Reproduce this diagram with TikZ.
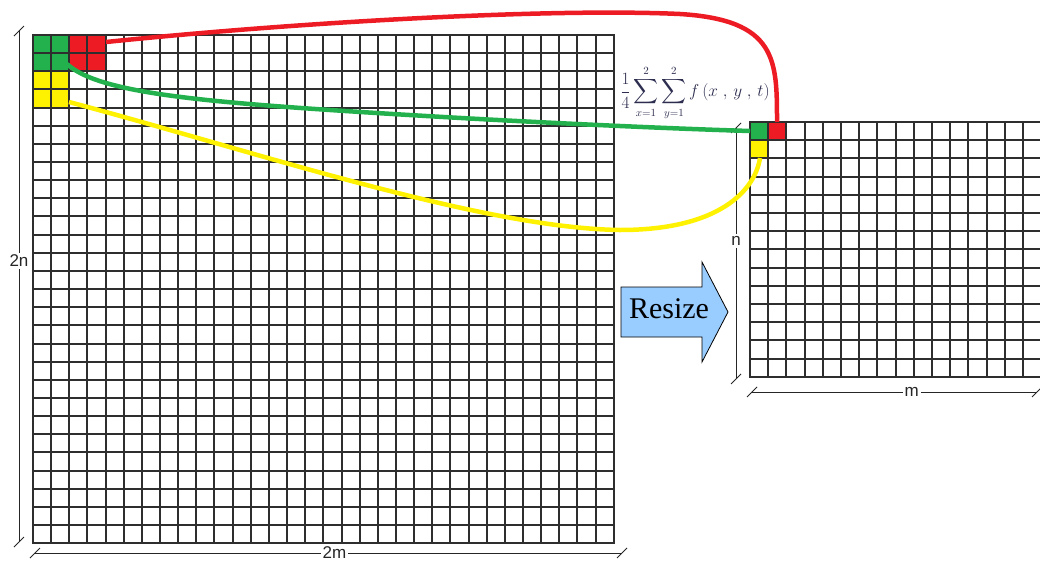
\documentclass[tikz,border=0pt]{standalone}
\usepackage{amsmath}
\usepackage{fontspec}
\setmainfont{Liberation Serif}
\setsansfont{Liberation Sans}
\usetikzlibrary{calc}

\definecolor{pgreen}{RGB}{34,177,76}
\definecolor{pred}{RGB}{237,28,36}
\definecolor{pyellow}{RGB}{255,242,0}
\definecolor{arrowblue}{RGB}{153,204,255}
\definecolor{formulaink}{RGB}{45,45,80}

\begin{document}
\begin{tikzpicture}[x=1pt, y=-1pt,
    gridline/.style={line width=2pt, black!82, line cap=rect},
    link/.style={line width=4.5pt},
    dimline/.style={line width=0.9pt, black!85},
    dimlabel/.style={fill=white, text=black!85, inner sep=2pt,
        font=\sffamily\fontsize{17}{17}\selectfont}]
    \useasboundingbox (0,0) rectangle (1040,565);

    % Large image: 2m x 2n cells
    \fill[pgreen] (33,35) rectangle (69,71);
    \fill[pred] (69,35) rectangle (106,71);
    \fill[pyellow] (33,71) rectangle (69,108);
    \foreach \i in {0,...,32} {
        \pgfmathsetmacro{\gx}{round(33+\i*18.15)}
        \draw[gridline] (\gx,35) -- (\gx,543);
    }
    \foreach \j in {0,...,28} {
        \pgfmathsetmacro{\gy}{round(35+\j*18.15)}
        \draw[gridline] (33,\gy) -- (614,\gy);
    }
    \coordinate (redA) at (106,42);
    \coordinate (greenA) at (67,64);
    \coordinate (yellowA) at (69,102);

    % Small image: m x n cells
    \fill[pgreen] (750,122) rectangle (768,140);
    \fill[pred] (768,122) rectangle (786,140);
    \fill[pyellow] (750,140) rectangle (768,158);
    \foreach \i in {0,...,16} {
        \pgfmathsetmacro{\gx}{round(750+\i*18.2)}
        \draw[gridline] (\gx,122) -- (\gx,377);
    }
    \foreach \j in {0,...,14} {
        \pgfmathsetmacro{\gy}{round(122+\j*18.2)}
        \draw[gridline] (750,\gy) -- (1041,\gy);
    }
    \coordinate (redB) at (777,122);
    \coordinate (greenB) at (750,131);
    \coordinate (yellowB) at (760,158);

    % Dimension lines
    \coordinate (bigNtop) at (19,31);
    \coordinate (bigNbot) at (19,542);
    \coordinate (bigMleft) at (35,553);
    \coordinate (bigMright) at (622,553);
    \coordinate (smallNtop) at (736,128);
    \coordinate (smallNbot) at (736,379);
    \coordinate (smallMleft) at (752,392);
    \coordinate (smallMright) at (1037,392);

    \draw[dimline] (bigNtop) -- (bigNbot) node[dimlabel, pos=0.45] (lbl2n) {2n};
    \draw[dimline] (bigMleft) -- (bigMright) node[dimlabel, pos=0.51] (lbl2m) {2m};
    \draw[dimline] (smallNtop) -- (smallNbot) node[dimlabel, pos=0.45] (lbln) {n};
    \draw[dimline] (smallMleft) -- (smallMright) node[dimlabel, pos=0.56] (lblm) {m};
    \foreach \p in {bigNtop, bigNbot, bigMleft, bigMright, smallNtop, smallNbot, smallMleft, smallMright}
        \draw[dimline] (\p) ++(-5,5) -- ++(10,-10);

    % Resize arrow
    \draw[fill=arrowblue, line width=0.8pt] (621,287) -- (702,287) -- (702,262) -- (728,312)
        -- (702,362) -- (702,337) -- (621,337) -- cycle;
    \node[font=\fontsize{30}{30}\selectfont] (resize) at (669,309) {Resize};

    % Averaging formula
    \node[text=formulaink, font=\fontsize{16}{18}\selectfont, inner sep=0pt] (avg) at (695,93)
        {$\displaystyle\frac{1}{4}\sum_{x=1}^{2}\sum_{y=1}^{2} f\,(x\;,\,y\;,\,t)$};

    % Cell-to-cell links
    \draw[link, pred] (redA) .. controls (300,22) and (550,8) .. (680,14)
        .. controls (777,20) and (777,60) .. (redB);
    \draw[link, pgreen] (greenA) .. controls (95,90) and (180,100) .. (330,110)
        .. controls (480,120) and (650,128) .. (greenB);
    \draw[link, pyellow] (yellowA) .. controls (250,150) and (480,228) .. (620,230)
        .. controls (720,230) and (755,190) .. (yellowB);
\end{tikzpicture}
\end{document}
